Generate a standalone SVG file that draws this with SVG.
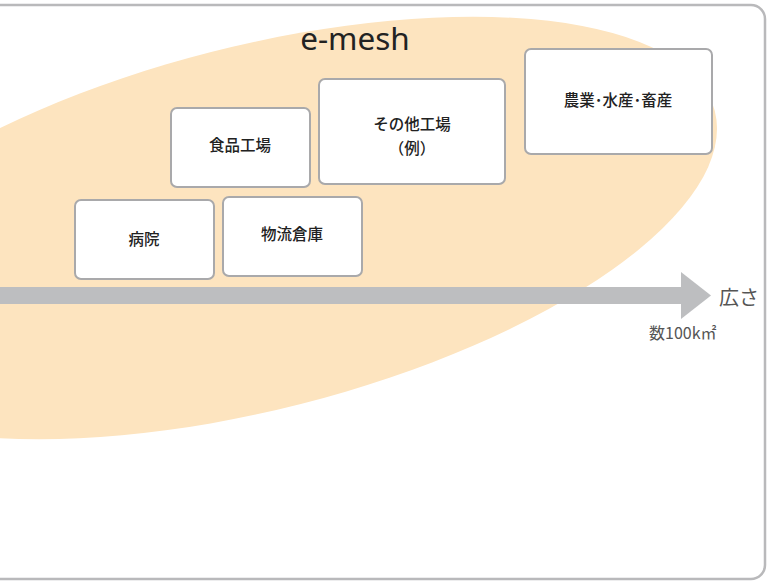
<svg xmlns="http://www.w3.org/2000/svg" width="769" height="581" viewBox="0 0 769 581">
<style>
.box{fill:#fff;stroke:#A9A9AB;stroke-width:2}
.lbl{font-family:"Noto Sans CJK JP","Noto Sans",sans-serif;font-size:15.5px;font-weight:500;fill:#222;text-anchor:middle}
.gray{font-family:"Noto Sans CJK JP","Noto Sans",sans-serif;fill:#555}
</style>
<rect x="-20" y="5" width="785" height="574" rx="14" fill="#fff" stroke="#B9B9BB" stroke-width="2.5"/>
<ellipse cx="256" cy="228" rx="473.5" ry="181.6" transform="rotate(-14.3 256 228)" fill="#FDE4BF"/>
<text x="355" y="50" font-family="'Noto Sans','Open Sans',sans-serif" font-size="31.5" fill="#222" text-anchor="middle">e-mesh</text>
<g id="connectors">
<rect x="-5" y="287" width="690" height="17" fill="#BDBEC0"/>
<polygon points="681,272 711,295.5 681,319" fill="#BDBEC0"/>
</g>
<g id="n-food"><rect class="box" x="171" y="108" width="139" height="79" rx="6"/><text class="lbl" x="240" y="151">食品工場</text></g>
<g id="n-other"><rect class="box" x="319" y="79" width="186" height="105" rx="6"/><text class="lbl" x="412" y="130">その他工場</text><text class="lbl" x="412" y="154">（例）</text></g>
<g id="n-agri"><rect class="box" x="525" y="49" width="187" height="105" rx="6"/><text class="lbl" x="618" y="106">農業･水産･畜産</text></g>
<g id="n-hosp"><rect class="box" x="75" y="200" width="139" height="79" rx="6"/><text class="lbl" x="144" y="245">病院</text></g>
<g id="n-logi"><rect class="box" x="223" y="197" width="139" height="79" rx="6"/><text class="lbl" x="292" y="240">物流倉庫</text></g>
<text class="gray" x="719" y="305" font-size="20">広さ</text>
<text class="gray" x="649" y="339" font-size="16">数100k㎡</text>
</svg>
